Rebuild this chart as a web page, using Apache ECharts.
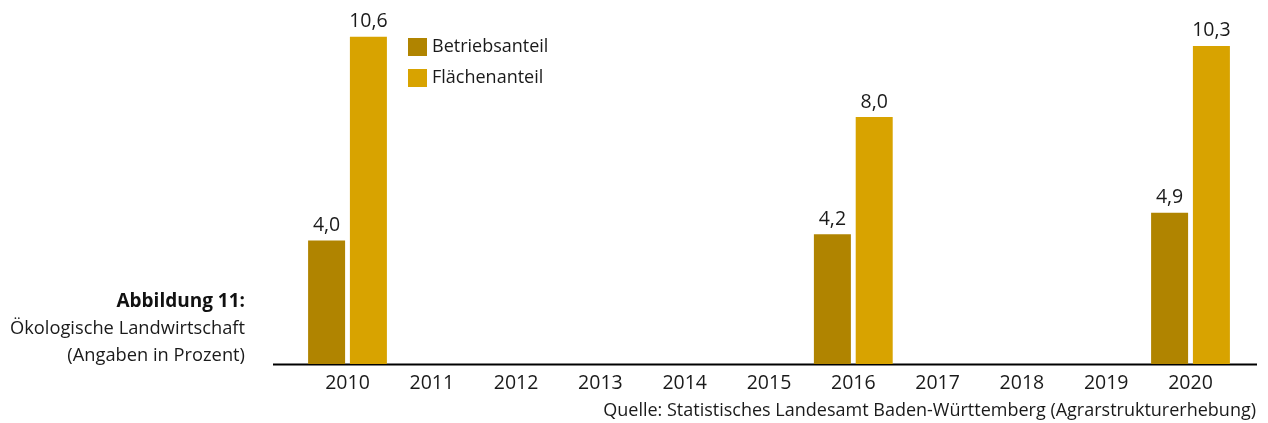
<!DOCTYPE html>
<html>
<head>
<meta charset="utf-8">
<script src="https://cdn.jsdelivr.net/npm/echarts@6/dist/echarts.min.js"></script>
<style>
html,body{margin:0;padding:0;background:#fff;}
#c{width:1268px;height:423px;}
</style>
</head>
<body>
<div id="c"></div>
<script>
const categories = ['2010','2011','2012','2013','2014','2015','2016','2017','2018','2019','2020'];
const betriebsanteil = [4.0, null, null, null, null, null, 4.2, null, null, null, 4.9];
const flaechenanteil = [10.6, null, null, null, null, null, 8.0, null, null, null, 10.3];
const seriesNames = ['Betriebsanteil', 'Flächenanteil'];
const titleLines = ['Abbildung 11:', 'Ökologische Landwirtschaft', '(Angaben in Prozent)'];
const sourceText = 'Quelle: Statistisches Landesamt Baden-Württemberg (Agrarstrukturerhebung)';

const FONT = '"Open Sans", sans-serif';
const chart = echarts.init(document.getElementById('c'), null, {renderer: 'canvas'});
const fmt = p => p.value == null ? '' : p.value.toFixed(1).replace('.', ',');
const TXT = '#1a1a1a';

chart.setOption({
  animation: false,
  textStyle: {fontFamily: FONT},
  grid: {left: 305.35, right: 35.35, top: 24.3, bottom: 59},
  legend: {
    left: 408, top: 38, orient: 'vertical', itemGap: 13, padding: 0,
    itemWidth: 19, itemHeight: 18, icon: 'rect',
    textStyle: {fontSize: 18, color: TXT, fontFamily: FONT},
    data: seriesNames
  },
  xAxis: {
    type: 'category', data: categories,
    axisLine: {show: false}, axisTick: {show: false},
    axisLabel: {fontSize: 19.5, color: TXT, margin: 9, fontFamily: FONT}
  },
  yAxis: {type: 'value', min: 0, max: 11, show: false, splitLine: {show: false}},
  series: [
    {name: seriesNames[0], type: 'bar', data: betriebsanteil, barWidth: 37, barGap: '13%',
     itemStyle: {color: '#B08400'},
     label: {show: true, position: 'top', distance: 5, fontSize: 19.5, color: TXT, formatter: fmt}},
    {name: seriesNames[1], type: 'bar', data: flaechenanteil, barWidth: 37, barGap: '13%',
     itemStyle: {color: '#D8A300'},
     label: {show: true, position: 'top', distance: 5, fontSize: 19.5, color: TXT, formatter: fmt}}
  ],
  graphic: [
    {type: 'line', shape: {x1: 273, y1: 364.5, x2: 1257, y2: 364.5}, style: {stroke: '#000', lineWidth: 2}},
    {type: 'text', x: 245, y: 302, style: {text: titleLines[0], font: 'bold 19px ' + FONT, fill: '#111', textAlign: 'right', textVerticalAlign: 'middle'}},
    {type: 'text', x: 245, y: 329, style: {text: titleLines[1], font: '18.3px ' + FONT, fill: TXT, textAlign: 'right', textVerticalAlign: 'middle'}},
    {type: 'text', x: 245, y: 356, style: {text: titleLines[2], font: '18.3px ' + FONT, fill: TXT, textAlign: 'right', textVerticalAlign: 'middle'}},
    {type: 'text', x: 1256, y: 411, style: {text: sourceText, font: '18px ' + FONT, fill: TXT, textAlign: 'right', textVerticalAlign: 'middle'}}
  ]
});
</script>
</body>
</html>
